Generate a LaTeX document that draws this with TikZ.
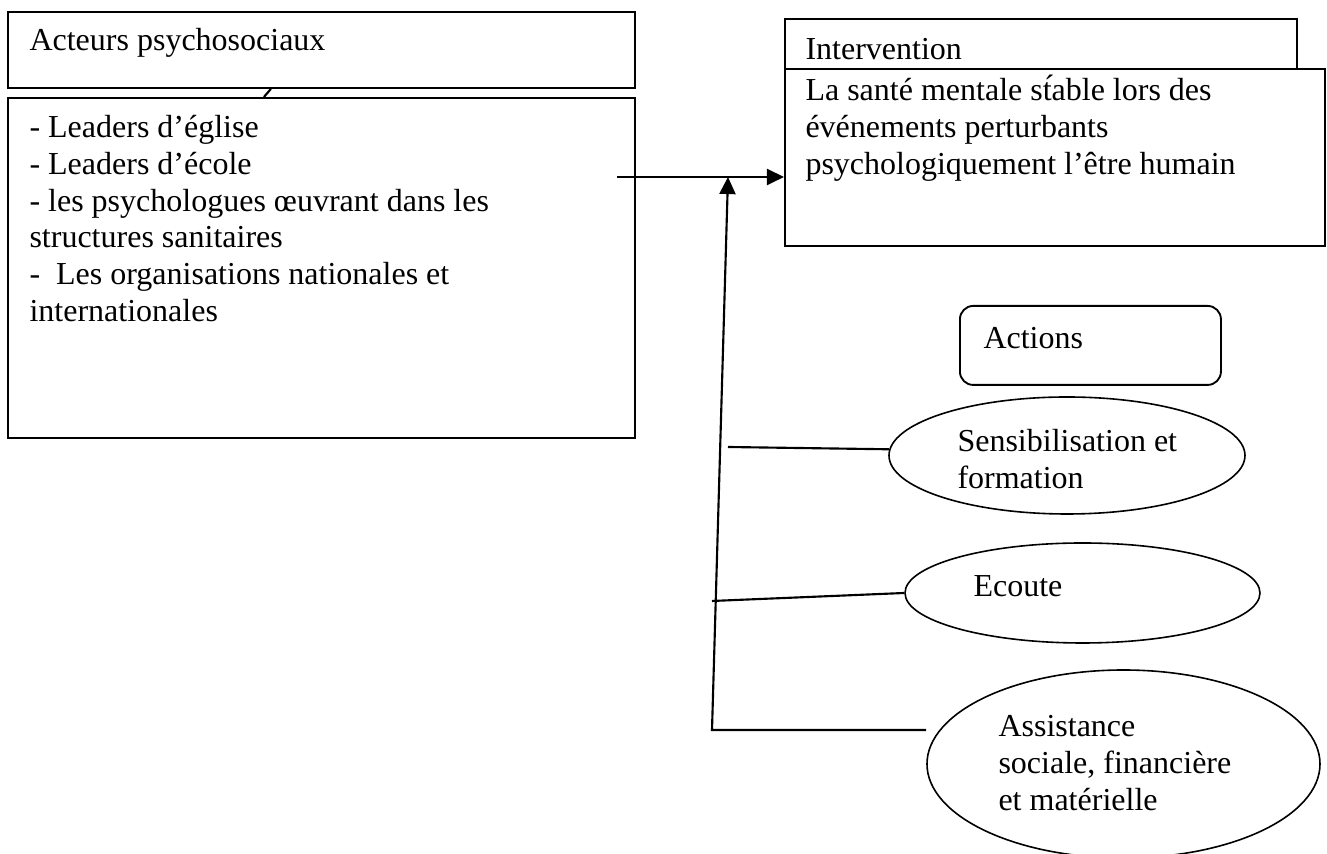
\documentclass[tikz,border=0pt]{standalone}
\usepackage{fontspec}
\setmainfont{Liberation Serif}
\usepackage{tikz}
\usetikzlibrary{shapes,arrows.meta,positioning,calc}
\newlength{\px}
\setlength{\px}{0.375pt}

\begin{document}
\begin{tikzpicture}[x=0.375pt, y=-0.375pt,
    boite/.style={draw, line width=0.7pt, rectangle, anchor=north west, inner sep=0pt},
    ovale/.style={draw, line width=0.6pt, ellipse, inner sep=0pt},
    texte/.style={anchor=north west, inner sep=0pt, align=left, font=\fontsize{12}{13.8}\selectfont},
    trait/.style={line width=0.8pt},
    fleche/.style={trait, -{Triangle[length=6.4pt, width=6pt]}}]
    \useasboundingbox (0,0) rectangle (1327,854);

    % Acteurs
    \node[boite, minimum width=627\px, minimum height=76\px] (acteurs) at (7,11) {};
    \node[boite, minimum width=627\px, minimum height=340\px] (liste) at (7,97) {};
    \node[texte] (acteurs-titre) at (29,24.2) {\strut Acteurs psychosociaux};
    \node[texte] (liste-texte) at (29,111.2) {\strut - Leaders d’église\\
        - Leaders d’école\\
        - les psychologues œuvrant dans les\\
        structures sanitaires\\
        -\ \ Les organisations nationales et\\
        internationales};

    % Intervention
    \node[boite, minimum width=512\px, minimum height=70\px] (inter-titre) at (784,18) {};
    \node[boite, fill=white, minimum width=540\px, minimum height=177\px] (inter) at (784,68) {};
    \node[texte] (inter-label) at (805,33.2) {\strut Intervention};
    \node[texte] (inter-texte) at (805,74.2) {\strut La santé mentale st́able lors des\\
        événements perturbants\\
        psychologiquement l’être humain};

    % Actions
    \node[boite, rounded corners=5pt, minimum width=261\px, minimum height=79\px] (actions) at (959,305) {};
    \node[texte] (actions-label) at (983,322.2) {\strut Actions};

    \node[ovale, minimum width=356\px, minimum height=117\px] (sensib) at (1067,455.5) {};
    \node[ovale, minimum width=355\px, minimum height=100\px] (ecoute) at (1082.5,593) {};
    \node[ovale, minimum width=393\px, minimum height=188\px] (assist) at (1123.5,764) {};
    \node[texte] (sensib-texte) at (957,425.2) {\strut Sensibilisation et\\ formation};
    \node[texte] (ecoute-texte) at (973,570.2) {\strut Ecoute};
    \node[texte] (assist-texte) at (998,710.2) {\strut Assistance\\ sociale, financière\\ et matérielle};

    % Liens
    \coordinate (depart) at (617,177);
    \coordinate (jonction) at (728,177);
    \coordinate (coin) at (712,730);
    \coordinate (sensib-bout) at (728,447);
    \coordinate (ecoute-bout) at (712,601);

    \draw[trait] ([shift={(-50.5,0)}]acteurs.south) -- ([shift={(-57.5,0)}]liste.north);
    \draw[fleche] (depart) -- (depart -| inter.west);
    \draw[fleche] (assist.west |- coin) -- (coin) -- (jonction);
    \draw[trait] (sensib.178) -- (sensib-bout);
    \draw[trait] (ecoute.west) -- (ecoute-bout);
\end{tikzpicture}
\end{document}
